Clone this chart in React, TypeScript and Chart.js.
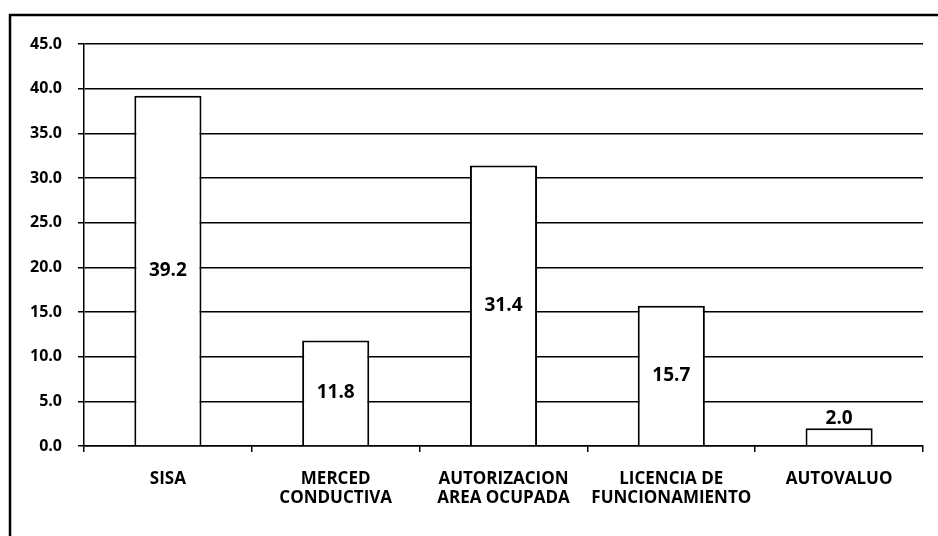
import React, { useEffect, useRef } from "react";
import { Chart, registerables } from "chart.js";

Chart.register(...registerables);

const categories: string[][] = [
  ["SISA"],
  ["MERCED", "CONDUCTIVA"],
  ["AUTORIZACION", "AREA OCUPADA"],
  ["LICENCIA DE", "FUNCIONAMIENTO"],
  ["AUTOVALUO"],
];
const values: number[] = [39.2, 11.8, 31.4, 15.7, 2.0];
const yMin = 0;
const yMax = 45;
const yStep = 5;

const FONT = "'Open Sans', Lato, sans-serif";

const framePlugin = {
  id: "frame",
  beforeDraw(chart: any) {
    const ctx = chart.ctx;
    ctx.save();
    ctx.fillStyle = "#ffffff";
    ctx.fillRect(0, 0, chart.width, chart.height);
    ctx.strokeStyle = "#000000";
    ctx.lineWidth = 2.5;
    ctx.beginPath();
    ctx.moveTo(10, chart.height);
    ctx.lineTo(10, 15);
    ctx.lineTo(chart.width, 15);
    ctx.stroke();
    ctx.restore();
  },
};

const labelPlugin = {
  id: "barLabels",
  afterDatasetsDraw(chart: any) {
    const ctx = chart.ctx;
    const meta = chart.getDatasetMeta(0);
    ctx.save();
    ctx.fillStyle = "#000";
    ctx.font = `bold 19px ${FONT}`;
    ctx.textAlign = "center";
    ctx.textBaseline = "middle";
    meta.data.forEach((bar: any, i: number) => {
      const v = values[i];
      const txt = v.toFixed(1);
      if (v < 5) {
        ctx.fillText(txt, bar.x, bar.y - 10);
      } else {
        ctx.fillText(txt, bar.x, (bar.y + bar.base) / 2);
      }
    });
    ctx.restore();
  },
};

export default function App() {
  const ref = useRef<HTMLCanvasElement | null>(null);
  useEffect(() => {
    if (!ref.current) return;
    const chart = new Chart(ref.current, {
      type: "bar",
      data: {
        labels: categories,
        datasets: [
          {
            data: values,
            backgroundColor: "#ffffff",
            borderColor: "#000000",
            borderWidth: 2,
            barPercentage: 0.4,
            categoryPercentage: 1,
          },
        ],
      },
      options: {
        animation: false,
        responsive: false,
        maintainAspectRatio: false,
        layout: { padding: { top: 44, right: 15, left: 0, bottom: 0 } },
        plugins: { legend: { display: false }, tooltip: { enabled: false } },
        scales: {
          x: {
            afterFit: (s: any) => {
              s.height = 90;
            },
            grid: {
              offset: true,
              drawOnChartArea: false,
              drawTicks: true,
              tickLength: 6,
              color: "#000",
              lineWidth: 1.5,
            },
            border: { color: "#000", width: 1.5 },
            ticks: {
              color: "#000",
              padding: 18,
              font: { family: FONT, size: 17, weight: "bold", lineHeight: 1.12 },
              maxRotation: 0,
              autoSkip: false,
            },
          },
          y: {
            min: yMin,
            max: yMax,
            afterFit: (s: any) => {
              s.width = 84;
            },
            grid: {
              color: "#000",
              lineWidth: 1.5,
              tickLength: 6,
            },
            border: { color: "#000", width: 1.5 },
            ticks: {
              stepSize: yStep,
              color: "#000",
              padding: 16,
              font: { family: FONT, size: 16, weight: "bold" },
              callback: (v: any) => Number(v).toFixed(1),
            },
          },
        },
      },
      plugins: [framePlugin, labelPlugin],
    });
    return () => chart.destroy();
  }, []);
  return (
    <canvas
      ref={ref}
      width={938}
      height={536}
      style={{ position: "absolute", left: 0, top: 0, width: 938, height: 536 }}
    />
  );
}
